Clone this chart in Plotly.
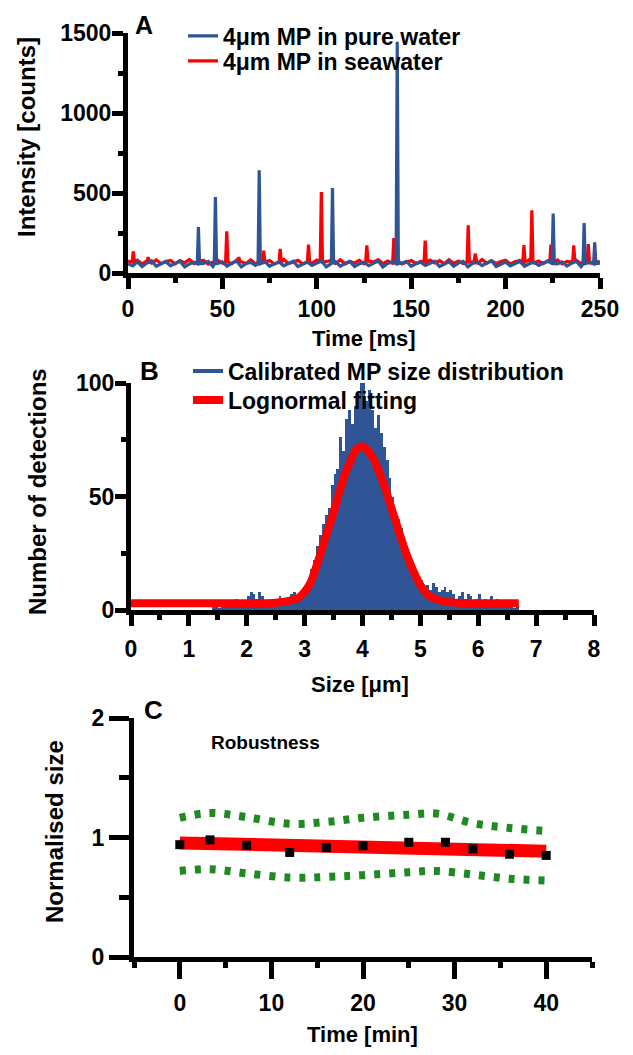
import plotly.graph_objects as go

# ---------------- data ----------------
# Panel A: time traces (ms, counts). Baseline sampled every 2.5 ms, spikes listed separately.
A_STEP = 2.5
blue_base = [58, 44, 70, 40, 62, 76, 42, 56, 72, 45,
             61, 74, 38, 57, 68, 46, 60, 73, 41, 59,
             70, 43, 62, 75, 39, 58, 67, 48, 60, 72,
             42, 57, 69, 45, 61, 74, 40, 56, 68, 47,
             59, 76, 38, 58, 70, 43, 62, 73, 41, 57,
             67, 46, 60, 75, 37, 59, 69, 44, 61, 72,
             42, 58, 68, 47, 60, 74, 40, 56, 70, 43,
             62, 73, 38, 59, 67, 46, 61, 76, 41, 57,
             69, 44, 60, 72, 42, 58, 68, 48, 62, 74,
             37, 57, 70, 43, 61, 73, 40, 59, 67, 47,
             62]
red_base = [74, 60, 80, 56, 76, 62, 82, 58, 71, 78,
            57, 77, 63, 84, 59, 72, 79, 55, 68, 81,
            61, 75, 58, 80, 70, 60, 83, 57, 76, 63,
            78, 56, 72, 84, 59, 68, 79, 58, 75, 62,
            81, 57, 70, 77, 60, 83, 56, 72, 63, 79,
            58, 76, 68, 84, 59, 75, 62, 80, 57, 70,
            78, 60, 72, 56, 81, 63, 77, 58, 83, 61,
            75, 59, 79, 68, 57, 84, 62, 76, 60, 72,
            80, 56, 70, 78, 58, 83, 63, 75, 59, 77,
            61, 81, 57, 72, 68, 79, 58, 84, 62, 76,
            68]
blue_spike_t = [37.3, 46.3, 69.5, 108.3, 142.6, 225.2, 241.6, 247.2]
blue_spike_h = [287, 475, 642, 531, 1445, 371, 312, 192]
red_spike_t = [2.8, 10.7, 52.3, 58.7, 71.9, 80.6, 95.6, 102.4, 126.5, 140.8,
               157.4, 180.2, 183.9, 209.7, 213.9, 224.0, 236.1, 243.8]
red_spike_h = [135, 100, 260, 100, 140, 150, 177, 506, 173, 219,
               202, 298, 121, 175, 392, 177, 173, 181]

# Panel B: histogram (bin start 1.40 um, width 0.05 um) and lognormal fit
B_BIN0, B_BINW = 1.40, 0.05
hist_counts = [2, 3, 1, 4, 2, 3, 4, 2, 5, 3,
               2, 4, 6, 8, 7, 5, 8, 6, 3, 4,
               3, 5, 4, 6, 3, 5, 4, 7, 8, 6,
               8, 9, 11, 14, 18, 22, 28, 33, 38, 42,
               45, 55, 60, 62, 76, 70, 84, 88, 82, 90,
               95, 100, 104, 92, 97, 88, 80, 86, 78, 72,
               66, 58, 50, 42, 40, 36, 29, 25, 21, 18,
               16, 12, 13, 10, 11, 9, 12, 10, 8, 9,
               10, 8, 9, 7, 5, 6, 8, 5, 7, 6,
               4, 5, 7, 4, 5, 3, 6, 4, 5, 3,
               4, 3, 2, 3, 1, 2]
fit_size = [0, 1, 2, 2.5, 2.8, 2.9, 3.0, 3.1, 3.2, 3.3, 3.4, 3.5, 3.6, 3.7, 3.8, 3.9,
            4.0, 4.1, 4.2, 4.3, 4.4, 4.5, 4.6, 4.7, 4.8, 4.9, 5.0, 5.1, 5.2, 5.4,
            5.7, 6.0, 6.7]
fit_count = [3, 3, 3, 3.2, 4.5, 5.5, 8, 12, 19, 27, 35, 43, 52, 60, 66, 71,
             72, 70, 66, 60, 53, 45, 37, 29, 22, 16, 11, 7.5, 5.5, 3.8,
             3.1, 3, 3]

# Panel C: robustness
rob_time = [0, 3.3, 7.3, 12, 16, 20, 25, 29, 32, 36, 40]
rob_size = [0.94, 0.98, 0.935, 0.875, 0.915, 0.93, 0.96, 0.96, 0.905, 0.86, 0.85]
rob_fit_time = [0, 40]
rob_fit_size = [0.955, 0.885]
band_time = [0, 3.3, 7.3, 12, 16, 20, 25, 28, 32, 36, 40]
band_upper = [1.165, 1.205, 1.17, 1.115, 1.13, 1.165, 1.19, 1.2, 1.12, 1.08, 1.055]
band_lower = [0.72, 0.735, 0.70, 0.665, 0.67, 0.685, 0.71, 0.72, 0.69, 0.655, 0.64]

# ---------------- styling ----------------
FONT = "Liberation Sans"
BLUE = "#2F5597"
RED = "#FF0000"
GREEN = "#1E8B22"
OFF = 8                      # page body margin
W, H = 633 - OFF, 1055 - OFF
FS_TICK = 23
FS_TITLE = 22
FS_VTITLE = 24
FS_LEG = 23


def fx(p):
    return (p - OFF) / W


def fy(p):
    return 1 - (p - OFF) / H


def build_trace(base, step, st, sh, level, hw=0.6):
    pts = []
    for i, v in enumerate(base):
        t = i * step
        if all(abs(t - s) > hw for s in st):
            pts.append((t, v))
    for t, h in zip(st, sh):
        pts += [(t - hw, level), (t, h), (t + hw, level)]
    pts.sort()
    return [p[0] for p in pts], [p[1] for p in pts]


bx, by = build_trace(blue_base, A_STEP, blue_spike_t, blue_spike_h, 58)
rx, ry = build_trace(red_base, A_STEP, red_spike_t, red_spike_h, 68)

hist_x = [B_BIN0 + B_BINW * (i + 0.5) for i in range(len(hist_counts))]

fig = go.Figure()
fig.add_trace(go.Scatter(x=rx, y=ry, mode="lines", line=dict(color=RED, width=3.2),
                         name="4μm MP in seawater", legend="legend2", xaxis="x", yaxis="y"))
fig.add_trace(go.Scatter(x=bx, y=by, mode="lines", line=dict(color=BLUE, width=3.2),
                         name="4μm MP in pure water", legend="legend", xaxis="x", yaxis="y"))

fig.add_trace(go.Bar(x=hist_x, y=hist_counts, width=B_BINW, marker=dict(color=BLUE, line=dict(width=0)),
                     showlegend=False, xaxis="x2", yaxis="y2"))
fig.add_trace(go.Scatter(x=[None], y=[None], mode="lines", line=dict(color=BLUE, width=4),
                         name="Calibrated MP size distribution", legend="legend3", xaxis="x2", yaxis="y2"))
fig.add_trace(go.Scatter(x=fit_size, y=fit_count, mode="lines", line=dict(color=RED, width=8, shape="spline"),
                         name="Lognormal fitting", legend="legend4", xaxis="x2", yaxis="y2"))

for band in (band_upper, band_lower):
    fig.add_trace(go.Scatter(x=band_time, y=band, mode="lines",
                             line=dict(color=GREEN, width=8, dash="6px,9px", shape="spline"),
                             showlegend=False, xaxis="x3", yaxis="y3"))
fig.add_trace(go.Scatter(x=rob_fit_time, y=rob_fit_size, mode="lines", line=dict(color=RED, width=13),
                         showlegend=False, xaxis="x3", yaxis="y3"))
fig.add_trace(go.Scatter(x=rob_time, y=rob_size, mode="markers",
                         marker=dict(symbol="square", size=9, color="black"),
                         showlegend=False, xaxis="x3", yaxis="y3"))

tickfont = dict(family=FONT, size=FS_TICK, color="black", weight="bold")


def ax(**kw):
    d = dict(showline=True, linecolor="black", linewidth=5, ticks="outside", tickcolor="black",
             tickwidth=5, showgrid=False, zeroline=False, tickfont=tickfont, fixedrange=True,
             automargin=False)
    d.update(kw)
    return d


def minor(dt, ln, t0=0):
    return dict(ticks="outside", dtick=dt, tick0=t0, ticklen=ln, tickwidth=5, tickcolor="black", showgrid=False)


leg_font = dict(family=FONT, size=FS_LEG, color="black", weight="bold")


def legend(xp, yp):
    return dict(x=fx(xp), y=fy(yp), xanchor="left", yanchor="middle", bgcolor="rgba(0,0,0,0)",
                font=leg_font, itemwidth=30, borderwidth=0)


fig.update_layout(
    width=W, height=H, margin=dict(l=0, r=0, t=0, b=0, pad=0, autoexpand=False),
    paper_bgcolor="white", plot_bgcolor="white",
    font=dict(family=FONT, size=FS_TICK, color="black"),
    xaxis=ax(domain=[fx(128), fx(600)], range=[0, 250], dtick=50, tick0=0, ticklen=11,
             minor=minor(25, 5), anchor="y"),
    yaxis=ax(domain=[fy(273), fy(33)], range=[0, 1500], dtick=500, tick0=0, ticklen=11,
             minor=minor(250, 5), anchor="x", ticklabelstandoff=-4),
    xaxis2=ax(domain=[fx(131), fx(594)], range=[0, 8], dtick=1, tick0=0, ticklen=11,
              minor=minor(0.5, 5), anchor="y2", ticklabelstandoff=3),
    yaxis2=ax(domain=[fy(610), fy(383)], range=[0, 100], dtick=50, tick0=0, ticklen=11,
              minor=minor(25, 5), anchor="x2", ticklabelstandoff=-4),
    xaxis3=ax(domain=[fx(134), fx(592)], range=[-5, 45], tickvals=[0, 10, 20, 30, 40], ticklen=17,
              minor=minor(5, 6), anchor="y3", ticklabelstandoff=4),
    yaxis3=ax(domain=[fy(957), fy(718)], range=[0, 2], dtick=1, tick0=0, ticklen=20,
              minor=minor(0.5, 10), anchor="x3"),
    legend=legend(183, 36), legend2=legend(183, 61),
    legend3=legend(188, 371), legend4=legend(188, 400),
    bargap=0,
)

ann = []


def text(t, xp, yp, size, angle=0, xanchor="center"):
    ann.append(dict(text=t, x=fx(xp), y=fy(yp), xref="paper", yref="paper", showarrow=False,
                    xanchor=xanchor, yanchor="middle", textangle=angle,
                    font=dict(family=FONT, size=size, color="black", weight="bold")))


text("Intensity [counts]", 27, 137, FS_VTITLE, angle=-90)
text("Time [ms]", 364, 338, FS_TITLE)
text("Number of detections", 37, 492, FS_VTITLE, angle=-90)
text("Size [μm]", 360, 684, FS_TITLE)
text("Normalised size", 55, 832, FS_VTITLE, angle=-90)
text("Time [min]", 362, 1034, FS_TITLE)
text("Robustness", 209, 742, 19, xanchor="left")
text("A", 144, 25, 25)
text("B", 149, 371, 26)
text("C", 153, 710, 26)
fig.update_layout(annotations=ann)

fig.write_html("out.html")
